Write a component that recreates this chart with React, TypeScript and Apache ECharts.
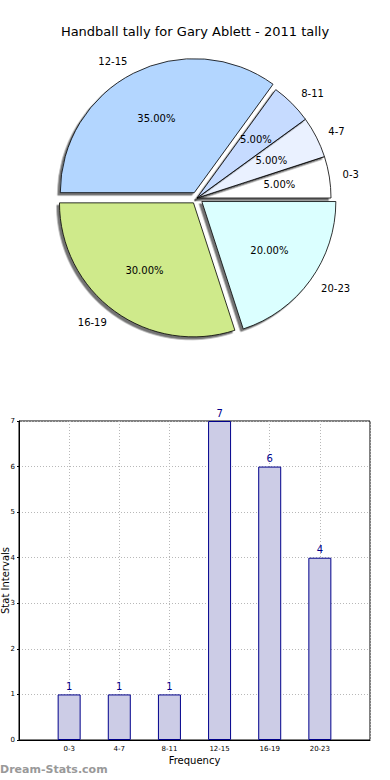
import React, { useEffect, useRef } from "react";
import * as echarts from "echarts";

const TITLE = "Handball tally for Gary Ablett - 2011 tally";
const categories = ["0-3", "4-7", "8-11", "12-15", "16-19", "20-23"];
const counts = [1, 1, 1, 7, 6, 4];
const pieColors = ["#ffffff", "#eaf1ff", "#c6dbff", "#b3d6ff", "#cfea8b", "#dbffff"];
const exploded = [false, false, false, true, true, true];
const yTicks = [0, 1, 2, 3, 4, 5, 6, 7];
const xAxisName = "Frequency";
const yAxisName = "Stat Intervals";
const watermark = "Dream-Stats.com";

const FONT = "DejaVu Sans";

export default function App() {
  const ref = useRef<HTMLDivElement>(null);
  useEffect(() => {
    if (!ref.current) return;
    const chart = echarts.init(ref.current, undefined, { renderer: "svg" });
    const total = counts.reduce((a, b) => a + b, 0);
    const R = 134;
    const center = [197, 198];

    const pieData = categories.map((c, i) => ({
      name: c,
      value: counts[i],
      selected: exploded[i],
      itemStyle: { color: pieColors[i] },
    }));

    const option: any = {
      animation: false,
      textStyle: { fontFamily: FONT },
      title: {
        text: TITLE,
        left: "center",
        top: 20,
        textStyle: { fontFamily: FONT, fontSize: 13, fontWeight: "normal", color: "#000" },
      },
      graphic: [
        {
          type: "text",
          left: 0,
          top: 764,
          style: {
            text: watermark,
            fill: "#999",
            font: `bold 11px '${FONT}'`,
          },
        },
      ],
      grid: {
        left: 19,
        right: 20,
        top: 421,
        bottom: 40,
        outerBoundsMode: "none",
        containLabel: false,
        show: true,
        borderColor: "#000",
        borderWidth: 1,
        backgroundColor: "transparent",
      },
      xAxis: {
        type: "value",
        min: 0,
        max: 7,
        interval: 1,
        name: xAxisName,
        nameLocation: "middle",
        nameGap: 15,
        nameMoveOverlap: false,
        nameTextStyle: { fontFamily: FONT, fontSize: 10, color: "#000" },
        axisLine: { show: true, lineStyle: { color: "#000" } },
        axisTick: { show: false },
        axisLabel: {
          fontFamily: FONT,
          fontSize: 7,
          color: "#000",
          margin: 5,
          formatter: (v: number) => categories[v - 1] ?? "",
        },
        splitLine: { show: true, lineStyle: { color: "#b8b8b8", type: [1, 2] } },
      },
      yAxis: {
        type: "value",
        min: 0,
        max: 7,
        interval: 1,
        name: yAxisName,
        nameLocation: "middle",
        nameGap: 9,
        nameMoveOverlap: false,
        nameTextStyle: { fontFamily: FONT, fontSize: 10, color: "#000" },
        axisLine: { show: true, lineStyle: { color: "#000" } },
        axisTick: { show: true, length: 2, lineStyle: { color: "#000" } },
        axisLabel: {
          fontFamily: FONT,
          fontSize: 7,
          color: "#000",
          margin: 4,
          formatter: (v: number) => (yTicks.includes(v) ? String(v) : ""),
        },
        splitLine: { show: true, lineStyle: { color: "#b8b8b8", type: [1, 2] } },
      },
      series: [
        {
          type: "pie",
          center,
          radius: [0, R],
          startAngle: 0,
          clockwise: false,
          selectedMode: "multiple",
          selectedOffset: 6,
          avoidLabelOverlap: false,
          silent: true,
          z: 2,
          itemStyle: {
            borderColor: "#000",
            borderWidth: 0.8,
            shadowBlur: 1,
            shadowColor: "rgba(0,0,0,0.55)",
            shadowOffsetX: -2.5,
            shadowOffsetY: 2.5,
          },
          select: { itemStyle: { borderColor: "#000", borderWidth: 0.8 } },
          emphasis: { disabled: true },
          label: {
            show: true,
            position: "outside",
            formatter: "{b}",
            fontFamily: FONT,
            fontSize: 10,
            color: "#000",
            distanceToLabelLine: 0,
          },
          labelLine: { show: false, length: R * 0.1, length2: 0 },
          data: pieData,
        },
        {
          type: "pie",
          center,
          radius: [0, R * 1.2],
          startAngle: 0,
          clockwise: false,
          selectedMode: "multiple",
          selectedOffset: 6,
          avoidLabelOverlap: false,
          silent: true,
          z: 3,
          itemStyle: { color: "transparent", borderWidth: 0 },
          select: { itemStyle: { color: "transparent", borderWidth: 0 } },
          emphasis: { disabled: true },
          label: {
            show: true,
            position: "inside",
            formatter: (p: any) => ((p.value / total) * 100).toFixed(2) + "%",
            fontFamily: FONT,
            fontSize: 10,
            color: "#000",
          },
          labelLine: { show: false },
          data: categories.map((c, i) => ({ name: c, value: counts[i], selected: exploded[i] })),
        },
        {
          type: "bar",
          xAxisIndex: 0,
          yAxisIndex: 0,
          barWidth: 23,
          itemStyle: { color: "#ccccE6", borderColor: "#00008b", borderWidth: 1 },
          label: {
            show: true,
            position: "top",
            distance: 3,
            fontFamily: FONT,
            fontSize: 10,
            color: "#00008b",
          },
          emphasis: { disabled: true },
          data: categories.map((c, i) => [i + 1, counts[i]]),
        },
      ],
    };
    chart.setOption(option);
    return () => chart.dispose();
  }, []);
  return (
    <div
      ref={ref}
      style={{ position: "absolute", left: 0, top: 0, width: 390, height: 780, background: "#fff" }}
    />
  );
}
